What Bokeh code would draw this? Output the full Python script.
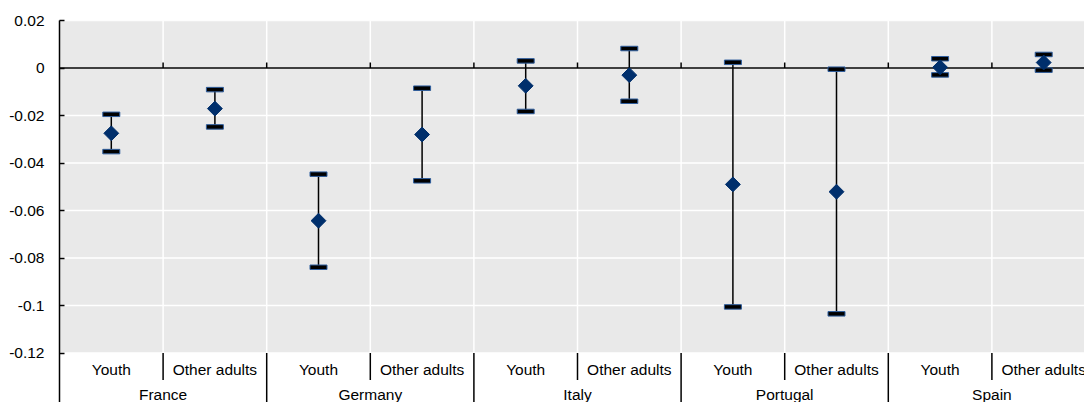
import numpy as np
from bokeh.plotting import figure
from bokeh.models import Range1d, FixedTicker, BoxAnnotation
from bokeh.core.properties import value
from bokeh.embed import file_html
from bokeh.resources import INLINE

countries = ["France", "Germany", "Italy", "Portugal", "Spain"]
groups = ["Youth", "Other adults"]

point = [-0.0275, -0.0171, -0.0643, -0.0280, -0.0075, -0.0030, -0.0490, -0.0521, 0.0003, 0.0023]
upper = [-0.0195, -0.0091, -0.0447, -0.0085, 0.0030, 0.0082, 0.0024, -0.0005, 0.0039, 0.0057]
lower = [-0.0352, -0.0248, -0.0839, -0.0475, -0.0183, -0.0140, -0.1006, -0.1035, -0.0029, -0.0009]

y_ticks = [0.02, 0, -0.02, -0.04, -0.06, -0.08, -0.1, -0.12]
y_tick_labels = ["0.02", "0", "-0.02", "-0.04", "-0.06", "-0.08", "-0.1", "-0.12"]

FONT = "Liberation Sans"
FS = "15.5px"
NAVY = "#002F6C"
GRAY = "#E9E9E9"

W, H = 1084, 402
LEFT, TOP = 59, 20
frame_h = H - TOP
px_per_unit = 47.5 / 0.02
y_top = y_ticks[0]
y_axis_bottom = y_ticks[-1]
y_bottom = y_top - frame_h / px_per_unit
slot_px = 103.6
x_end = (W - LEFT) / slot_px

n = len(countries) * len(groups)
xs = [i + 0.5 for i in range(n)]
sub_labels = [g for c in countries for g in groups]
country_x = [len(groups) * k + len(groups) / 2 for k in range(len(countries))]

p = figure(width=W, height=H, x_range=Range1d(0, x_end), y_range=Range1d(y_bottom, y_top),
           x_axis_type=None, toolbar_location=None, output_backend="svg",
           min_border_left=LEFT, min_border_top=TOP, min_border_right=0, min_border_bottom=0)
p.outline_line_color = None
p.grid.visible = False
p.background_fill_color = "white"

p.add_layout(BoxAnnotation(bottom=y_axis_bottom, top=y_top, fill_color=GRAY, fill_alpha=1,
                           line_color=None, level="underlay"))

# white grid
p.segment(x0=[0] * len(y_ticks), x1=[x_end] * len(y_ticks), y0=y_ticks, y1=y_ticks,
          line_color="white", line_width=1.5)
bounds = list(range(1, n + 1))
p.segment(x0=bounds, x1=bounds, y0=[y_axis_bottom] * len(bounds), y1=[y_top] * len(bounds),
          line_color="white", line_width=1.5)

# zero line + ticks
p.segment(x0=[0], x1=[x_end], y0=[0], y1=[0], line_color="black", line_width=1.5)
tick_len = 5.5 / px_per_unit
p.segment(x0=bounds, x1=bounds, y0=[0] * len(bounds), y1=[tick_len] * len(bounds),
          line_color="black", line_width=1.5)

# label area separators
short_len = 27 / px_per_unit
grp_b = [b for b in bounds if b % len(groups) != 0]
cty_b = [b for b in bounds if b % len(groups) == 0]
p.segment(x0=grp_b, x1=grp_b, y0=[y_axis_bottom] * len(grp_b), y1=[y_axis_bottom - short_len] * len(grp_b),
          line_color="black", line_width=1.5)
p.segment(x0=cty_b, x1=cty_b, y0=[y_axis_bottom] * len(cty_b), y1=[y_bottom] * len(cty_b),
          line_color="black", line_width=1.5)

# error bars
p.segment(x0=xs, x1=xs, y0=lower, y1=upper, line_color="black", line_width=1.5)
p.rect(x=xs + xs, y=upper + lower, width=17, height=4.5, width_units="screen", height_units="screen",
       fill_color="black", line_color="#2F5E9E", line_width=1)
p.scatter(x=xs, y=point, marker="square", angle=np.pi / 4, size=10.5,
          fill_color=NAVY, line_color=NAVY)

# category labels
p.text(x=xs, y=[y_axis_bottom] * n, text=sub_labels, y_offset=16,
       text_font=value(FONT), text_font_size=FS, text_align="center", text_baseline="middle",
       text_color="black")
p.text(x=country_x, y=[y_axis_bottom] * len(countries), text=countries, y_offset=41,
       text_font=value(FONT), text_font_size=FS, text_align="center", text_baseline="middle",
       text_color="black")

ax = p.yaxis[0]
ax.ticker = FixedTicker(ticks=y_ticks)
ax.major_label_overrides = {t: l for t, l in zip(y_ticks, y_tick_labels)}
ax.major_tick_in = 5
ax.major_tick_out = 0
ax.minor_tick_line_color = None
ax.axis_line_color = "black"
ax.axis_line_width = 1.5
ax.major_tick_line_color = "black"
ax.major_tick_line_width = 1.5
ax.major_label_standoff = 15
ax.major_label_text_font = FONT
ax.major_label_text_font_size = FS
ax.major_label_text_color = "black"

open("out.html", "w").write(file_html(p, INLINE))
